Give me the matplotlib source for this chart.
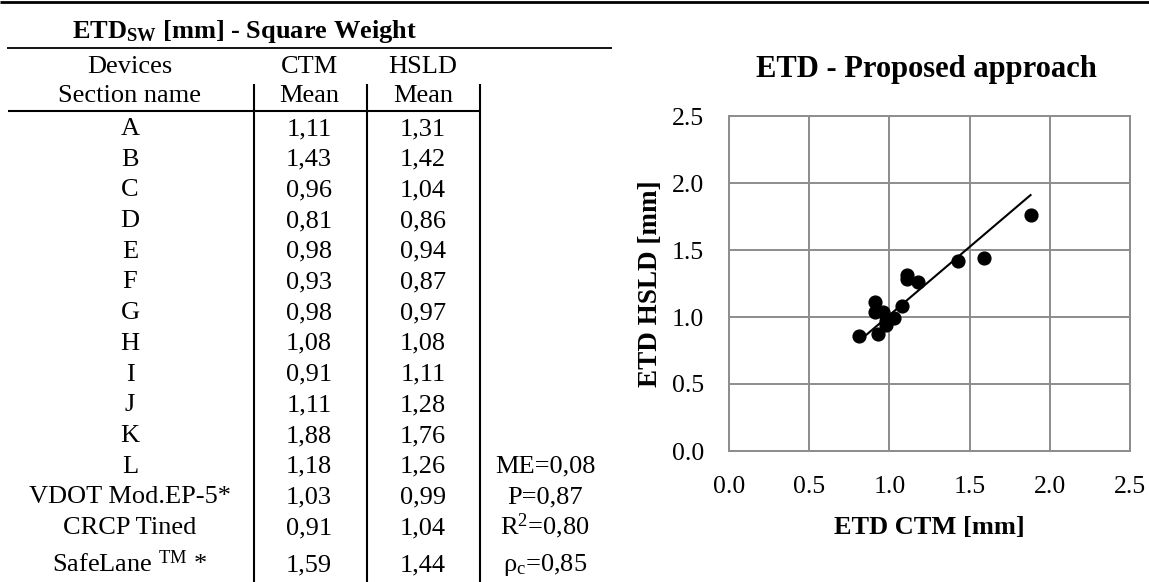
import matplotlib
matplotlib.use("Agg")
import matplotlib.pyplot as plt

plt.rcParams["font.family"] = ["Liberation Serif", "DejaVu Serif"]
plt.rcParams["mathtext.fontset"] = "custom"
plt.rcParams["mathtext.rm"] = "Liberation Serif"
plt.rcParams["mathtext.it"] = "Liberation Serif:italic"
plt.rcParams["mathtext.bf"] = "Liberation Serif:bold"

# ---------------- data ----------------
table_title = r"ETD$_{\mathbf{SW}}$ [mm] - Square Weight"
header_top = ["Devices", "CTM", "HSLD"]
header_bottom = ["Section name", "Mean", "Mean"]
sections = ["A", "B", "C", "D", "E", "F", "G", "H", "I", "J", "K", "L",
            "VDOT Mod.EP-5*", "CRCP Tined", r"SafeLane $^{\mathrm{TM}}$ *"]
ctm_mean = [1.11, 1.43, 0.96, 0.81, 0.98, 0.93, 0.98, 1.08, 0.91, 1.11,
            1.88, 1.18, 1.03, 0.91, 1.59]
hsld_mean = [1.31, 1.42, 1.04, 0.86, 0.94, 0.87, 0.97, 1.08, 1.11, 1.28,
             1.76, 1.26, 0.99, 1.04, 1.44]
stat_names = ["ME", "P", r"R$^{2}$", r"ρ$_{\mathrm{c}}$"]
stat_values = [0.08, 0.87, 0.80, 0.85]
stat_first_row = 11

chart_title = "ETD - Proposed approach"
x_label = "ETD CTM [mm]"
y_label = "ETD HSLD [mm]"
axis_ticks = [0.0, 0.5, 1.0, 1.5, 2.0, 2.5]
trend_x = [0.81, 1.88]
trend_y = [0.82, 1.91]


def fmt(v):
    return f"{v:.2f}".replace(".", ",")


W, H = 1149, 582
fig = plt.figure(figsize=(W / 100, H / 100), dpi=100)

# ---------------- table (pixel coordinate axes) ----------------
tax = fig.add_axes([0, 0, 1, 1])
tax.set_xlim(0, W)
tax.set_ylim(H, 0)
tax.axis("off")

body_fs = 19
col_x = [130, 309, 423, 545]

tax.plot([0, W], [2, 2], color="black", lw=2.0, solid_capstyle="butt")
tax.plot([7, 612], [48, 48], color="black", lw=1.3, solid_capstyle="butt")
tax.plot([8, 480], [110.5, 110.5], color="black", lw=1.5, solid_capstyle="butt")
for vx in [254, 366.7, 480]:
    tax.plot([vx, vx], [84, H], color="black", lw=1.5, solid_capstyle="butt")

tax.text(244, 38, table_title, ha="center", va="baseline",
         fontsize=19, fontweight="bold")

for j, t in enumerate(header_top):
    tax.text(col_x[j], 73, t, ha="center", va="baseline", fontsize=body_fs)
for j, t in enumerate(header_bottom):
    tax.text(col_x[j], 102.5, t, ha="center", va="baseline", fontsize=body_fs)

row_base = [135 + 30.7 * k for k in range(len(sections) - 1)] + [571.5]
for i, name in enumerate(sections):
    yb = row_base[i]
    tax.text(col_x[0], yb, name, ha="center", va="baseline", fontsize=body_fs)
    tax.text(col_x[1], yb, fmt(ctm_mean[i]), ha="center", va="baseline", fontsize=body_fs)
    tax.text(col_x[2], yb, fmt(hsld_mean[i]), ha="center", va="baseline", fontsize=body_fs)

for k, (n, v) in enumerate(zip(stat_names, stat_values)):
    tax.text(col_x[3], row_base[stat_first_row + k], f"{n}={fmt(v)}",
             ha="center", va="baseline", fontsize=body_fs)

# ---------------- scatter chart ----------------
left, right, top, bottom = 729, 1130, 116, 451
ax = fig.add_axes([left / W, 1 - bottom / H, (right - left) / W, (bottom - top) / H])
ax.set_facecolor("white")
ax.set_xlim(0, 2.5)
ax.set_ylim(0, 2.5)
ax.set_xticks(axis_ticks)
ax.set_yticks(axis_ticks)
ax.set_xticklabels([f"{t:.1f}" for t in axis_ticks])
ax.set_yticklabels([f"{t:.1f}" for t in axis_ticks])
grid_col = "#8c8c8c"
ax.grid(True, color=grid_col, lw=1.4)
ax.set_axisbelow(True)
for s in ax.spines.values():
    s.set_color(grid_col)
    s.set_linewidth(1.4)
ax.tick_params(length=0, labelsize=18.5, pad=18)

ax.plot(trend_x, trend_y, color="black", lw=1.5, zorder=3)
ax.plot(ctm_mean, hsld_mean, "o", color="black", markersize=9.2, zorder=4)

ax.set_xlabel(x_label, fontsize=19, fontweight="bold")
ax.set_ylabel(y_label, fontsize=19.5, fontweight="bold")
ax.xaxis.set_label_coords(0.5, (bottom - 516) / (bottom - top))
ax.yaxis.set_label_coords((663 - left) / (right - left), 0.5)
ax.xaxis.label.set_va("top")
ax.yaxis.label.set_va("bottom")

fig.text(926 / W, 1 - 77 / H, chart_title, ha="center", va="baseline",
         fontsize=22, fontweight="bold")

fig.savefig("out.png", dpi=100)
